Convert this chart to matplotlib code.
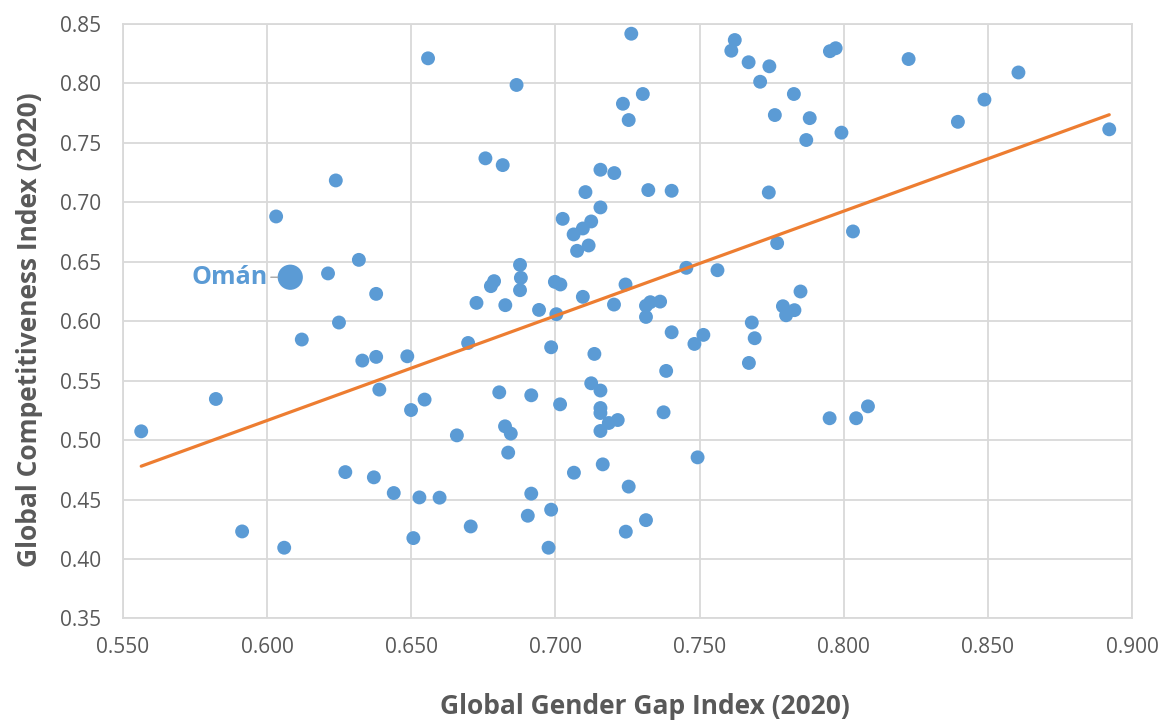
import numpy as np
import matplotlib.pyplot as plt

plt.rcParams["font.family"] = ["Open Sans", "DejaVu Sans"]

# Global Gender Gap Index (x) vs Global Competitiveness Index (y), 2020
gap = [
    0.6558, 0.6238, 0.6031, 0.6318, 0.6211, 0.6378,
    0.6865, 0.7263, 0.7622, 0.7610, 0.7670, 0.7742, 0.7710, 0.7827, 0.7761,
    0.7303, 0.7234, 0.7254, 0.6757, 0.6817, 0.7156, 0.7204, 0.7104, 0.7322,
    0.7403, 0.7740, 0.7156, 0.7025, 0.7124, 0.7095, 0.7063, 0.7115, 0.7075,
    0.7769, 0.7454, 0.7562, 0.6877, 0.6880, 0.6877, 0.6787, 0.6776, 0.6998,
    0.7017, 0.7243, 0.7095, 0.6726, 0.6826, 0.6943, 0.7203, 0.7314, 0.7329,
    0.7363, 0.7314, 0.7003, 0.7789, 0.7800, 0.7829, 0.7850,
    0.7952, 0.7972, 0.8225, 0.8606, 0.8488, 0.8396, 0.8921, 0.7882, 0.7870,
    0.7992, 0.8032,
    0.5563, 0.5822, 0.5913, 0.6059, 0.6120, 0.6249, 0.6330, 0.6378, 0.6486,
    0.6389, 0.6546, 0.6499, 0.6658, 0.6697, 0.6271, 0.6370, 0.6439, 0.6528,
    0.6598, 0.6507, 0.6706,
    0.6985, 0.7135, 0.7403, 0.7482, 0.7513, 0.7681, 0.7691, 0.7671, 0.7384,
    0.6805, 0.6916, 0.7016, 0.7124, 0.7156, 0.7156, 0.7156, 0.7185, 0.7216,
    0.7156, 0.7375, 0.6825, 0.6845, 0.6836, 0.7493, 0.7164, 0.7064, 0.7254,
    0.6916, 0.6904, 0.6985, 0.7314, 0.7244, 0.6976,
    0.7951, 0.8043, 0.8084,
]
gci = [
    0.8211, 0.7184, 0.6881, 0.6516, 0.6402, 0.6230,
    0.7987, 0.8418, 0.8365, 0.8275, 0.8178, 0.8144, 0.8014, 0.7911, 0.7734,
    0.7911, 0.7829, 0.7692, 0.7370, 0.7313, 0.7274, 0.7246, 0.7086, 0.7103,
    0.7097, 0.7083, 0.6957, 0.6861, 0.6839, 0.6780, 0.6730, 0.6637, 0.6592,
    0.6657, 0.6449, 0.6429, 0.6474, 0.6365, 0.6261, 0.6337, 0.6295, 0.6331,
    0.6309, 0.6309, 0.6205, 0.6154, 0.6135, 0.6095, 0.6140, 0.6130, 0.6160,
    0.6165, 0.6036, 0.6059, 0.6126, 0.6050, 0.6093, 0.6250,
    0.8271, 0.8296, 0.8205, 0.8092, 0.7864, 0.7677, 0.7614, 0.7708, 0.7524,
    0.7586, 0.6755,
    0.5074, 0.5346, 0.4232, 0.4095, 0.5846, 0.5989, 0.5669, 0.5700, 0.5705,
    0.5425, 0.5341, 0.5253, 0.5040, 0.5817, 0.4731, 0.4687, 0.4555, 0.4518,
    0.4516, 0.4176, 0.4274,
    0.5781, 0.5725, 0.5907, 0.5809, 0.5885, 0.5989, 0.5857, 0.5649, 0.5582,
    0.5402, 0.5377, 0.5301, 0.5478, 0.5417, 0.5270, 0.5228, 0.5144, 0.5169,
    0.5077, 0.5234, 0.5116, 0.5055, 0.4895, 0.4855, 0.4796, 0.4726, 0.4609,
    0.4550, 0.4364, 0.4415, 0.4327, 0.4230, 0.4095,
    0.5184, 0.5184, 0.5284,
]
oman_label = "Omán"
oman = (0.6080, 0.6370)

x_ticks = [0.55, 0.60, 0.65, 0.70, 0.75, 0.80, 0.85, 0.90]
y_ticks = [0.35, 0.40, 0.45, 0.50, 0.55, 0.60, 0.65, 0.70, 0.75, 0.80, 0.85]

blue = "#5B9BD5"
orange = "#ED7D31"
grey = "#595959"

fig = plt.figure(figsize=(11.62, 7.22), dpi=100)
ax = fig.add_axes([0.1059, 0.1434, 0.8683, 0.8234])

all_x = np.array(gap + [oman[0]])
all_y = np.array(gci + [oman[1]])

ax.scatter(gap, gci, s=100, color=blue, edgecolors="none", zorder=3)
ax.scatter([oman[0]], [oman[1]], s=330, color=blue, edgecolors="none", zorder=3)

# linear trendline
slope, intercept = np.polyfit(all_x, all_y, 1)
xl = np.array([all_x.min(), all_x.max()])
ax.plot(xl, slope * xl + intercept, color=orange, lw=2.3, zorder=4,
        solid_capstyle="round")

ax.annotate(oman_label, xy=oman, xytext=(-16, 0), textcoords="offset points",
            ha="right", va="center", fontsize=18, fontweight="bold", color=blue,
            arrowprops=dict(arrowstyle="-", color="#A5A5A5", lw=1,
                            shrinkA=0, shrinkB=9))

ax.set_xlim(0.55, 0.90)
ax.set_ylim(0.35, 0.85)
ax.set_xticks(x_ticks)
ax.set_yticks(y_ticks)
ax.set_xticklabels([f"{v:.3f}" for v in x_ticks])
ax.set_yticklabels([f"{v:.2f}" for v in y_ticks])
ax.tick_params(axis="both", length=0, labelsize=15, labelcolor=grey)
ax.tick_params(axis="x", pad=13)
ax.tick_params(axis="y", pad=16)
ax.grid(True, color="#D9D9D9", lw=1.3, zorder=0)
ax.set_axisbelow(True)
for sp in ax.spines.values():
    sp.set_color("#D9D9D9")
    sp.set_linewidth(1.3)

fig.text(0.555, 1 - 707 / 722, "Global Gender Gap Index (2020)", ha="center",
         va="center", fontsize=19, fontweight="bold", color=grey)
fig.text(30 / 1162, 1 - 330 / 722, "Global Competitiveness Index (2020)",
         ha="center", va="center", rotation=90, fontsize=19,
         fontweight="bold", color=grey)

fig.savefig("out.png", dpi=100)
